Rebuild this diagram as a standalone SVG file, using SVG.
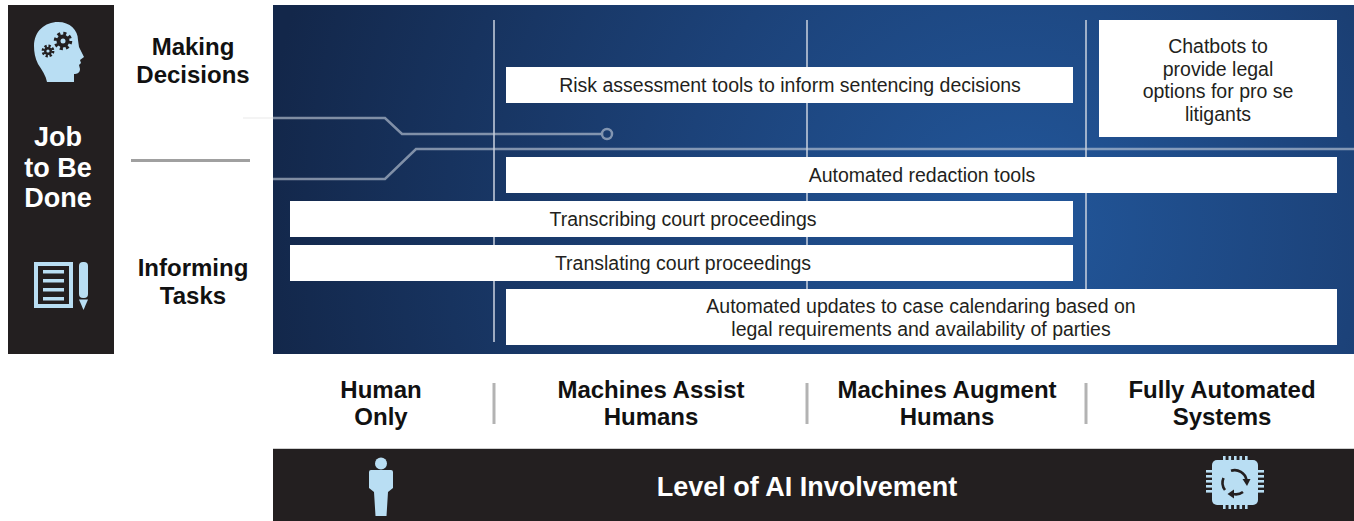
<svg xmlns="http://www.w3.org/2000/svg" width="1354" height="521" viewBox="0 0 1354 521">
  <style>
    .box { fill: #ffffff; }
    .bt { font-family: "Liberation Sans", Arial, sans-serif; font-size: 19.5px; fill: #231f20; text-anchor: middle; }
    .hd { font-family: "Liberation Sans", Arial, sans-serif; font-size: 24px; font-weight: bold; fill: #111111; text-anchor: middle; }
    .wt { font-family: "Liberation Sans", Arial, sans-serif; font-size: 27px; font-weight: bold; fill: #ffffff; text-anchor: middle; }
    .vl { stroke: #c9d2df; stroke-opacity: 0.75; stroke-width: 2; fill: none; }
    .ck { stroke: #c8d0dc; stroke-opacity: 0.6; stroke-width: 2.5; fill: none; }
    .sep { stroke: #b3b3b3; stroke-width: 3; }
    .ico { fill: #b9def3; }
    .dk { fill: #231f20; }
  </style>
  <defs>
    <radialGradient id="bg" gradientUnits="userSpaceOnUse" cx="1020" cy="230" r="760">
      <stop offset="0" stop-color="#22579b"/>
      <stop offset="0.45" stop-color="#1c4279"/>
      <stop offset="1" stop-color="#13274a"/>
    </radialGradient>
  </defs>
  <rect width="1354" height="521" fill="#ffffff"/>

  <!-- left panel -->
  <g id="job-panel">
    <rect x="8" y="5" width="106" height="349" class="dk"/>
    <g id="head-icon">
      <path class="ico" d="M47,82 C46,76 42,70 38,64 C35,58 34,52 34,46 C34,31 45,22 58,22 C70,22 78,30 78,40 L79,47 L84,57 L80,60 L81,63 L79,65 L80,69 C80,73 77,74 74,74 L74,82 Z"/>
      <circle cx="63" cy="41" r="6.5" class="dk"/>
      <circle cx="63" cy="41" r="7.5" fill="none" stroke="#231f20" stroke-width="3.5" stroke-dasharray="3 2.9"/>
      <circle cx="63" cy="41" r="2.5" class="ico"/>
      <circle cx="48" cy="51" r="4" class="dk"/>
      <circle cx="48" cy="51" r="5" fill="none" stroke="#231f20" stroke-width="2.8" stroke-dasharray="2.2 1.7"/>
      <circle cx="48" cy="51" r="1.6" class="ico"/>
    </g>
    <text class="wt" x="58" y="146">Job</text>
    <text class="wt" x="58" y="177">to Be</text>
    <text class="wt" x="58" y="207">Done</text>
    <g id="doc-icon">
      <rect x="34" y="262" width="39" height="46" class="ico"/>
      <rect x="38" y="266" width="31" height="38" class="dk"/>
      <rect x="43" y="270" width="21" height="3.5" class="ico"/>
      <rect x="43" y="279" width="21" height="3.5" class="ico"/>
      <rect x="43" y="288" width="21" height="3.5" class="ico"/>
      <rect x="43" y="297" width="21" height="3.5" class="ico"/>
      <rect x="79" y="262" width="9" height="36" rx="4" class="ico"/>
      <polygon points="79,299.5 88,299.5 83.5,310" class="ico"/>
    </g>
  </g>

  <!-- row labels -->
  <g id="row-making">
    <text class="hd" x="193" y="55">Making</text>
    <text class="hd" x="193" y="83">Decisions</text>
  </g>
  <g id="row-informing">
    <text class="hd" x="193" y="276">Informing</text>
    <text class="hd" x="193" y="304">Tasks</text>
  </g>
  <line x1="131" y1="160.5" x2="250" y2="160.5" stroke="#a0a0a0" stroke-width="3"/>

  <!-- main panel -->
  <rect x="273" y="5" width="1081" height="349" fill="url(#bg)"/>

  <g id="connectors">
    <line class="vl" x1="494" y1="20" x2="494" y2="342"/>
    <line class="vl" x1="807" y1="20" x2="807" y2="342"/>
    <line class="vl" x1="1086" y1="20" x2="1086" y2="342"/>
    <line x1="243" y1="118" x2="273" y2="118" stroke="#ececec" stroke-width="1.2"/>
    <polyline class="ck" points="273,118 385,118 402,134 601,134"/>
    <circle class="ck" cx="607" cy="134" r="5"/>
    <polyline class="ck" points="273,179 385,179 416,149 1354,149"/>
  </g>

  <g id="risk">
    <rect class="box" x="506" y="67" width="567" height="36"/>
    <text class="bt" x="790" y="92">Risk assessment tools to inform sentencing decisions</text>
  </g>
  <g id="chatbots">
    <rect class="box" x="1099" y="20" width="238" height="117"/>
    <text class="bt" x="1218" y="53">Chatbots to</text>
    <text class="bt" x="1218" y="75.5">provide legal</text>
    <text class="bt" x="1218" y="98">options for pro se</text>
    <text class="bt" x="1218" y="120.5">litigants</text>
  </g>
  <g id="redaction">
    <rect class="box" x="506" y="157" width="831" height="36"/>
    <text class="bt" x="922" y="182">Automated redaction tools</text>
  </g>
  <g id="transcribing">
    <rect class="box" x="290" y="201" width="783" height="36"/>
    <text class="bt" x="683" y="226">Transcribing court proceedings</text>
  </g>
  <g id="translating">
    <rect class="box" x="290" y="245" width="783" height="36"/>
    <text class="bt" x="683" y="270">Translating court proceedings</text>
  </g>
  <g id="calendaring">
    <rect class="box" x="506" y="289" width="831" height="56"/>
    <text class="bt" x="921" y="313">Automated updates to case calendaring based on</text>
    <text class="bt" x="921" y="336">legal requirements and availability of parties</text>
  </g>

  <!-- column labels -->
  <g id="col-human">
    <text class="hd" x="381" y="398">Human</text>
    <text class="hd" x="381" y="425">Only</text>
  </g>
  <g id="col-assist">
    <text class="hd" x="651" y="398">Machines Assist</text>
    <text class="hd" x="651" y="425">Humans</text>
  </g>
  <g id="col-augment">
    <text class="hd" x="947" y="398">Machines Augment</text>
    <text class="hd" x="947" y="425">Humans</text>
  </g>
  <g id="col-full">
    <text class="hd" x="1222" y="398">Fully Automated</text>
    <text class="hd" x="1222" y="425">Systems</text>
  </g>
  <line class="sep" x1="494" y1="383" x2="494" y2="424"/>
  <line class="sep" x1="807" y1="383" x2="807" y2="424"/>
  <line class="sep" x1="1086" y1="383" x2="1086" y2="424"/>

  <!-- bottom bar -->
  <g id="level-bar">
    <rect x="273" y="448" width="1081" height="73" class="dk"/>
    <line x1="273" y1="448.5" x2="1354" y2="448.5" stroke="#cfcfcf" stroke-width="1"/>
    <text class="wt" x="807" y="496">Level of AI Involvement</text>
    <g id="person-icon">
      <circle cx="381" cy="463.5" r="6" class="ico"/>
      <path class="ico" d="M371,470 L391,470 Q393,470 393,472 L393,488 L388,492 L386.5,516 L375.5,516 L374,492 L369,488 L369,472 Q369,470 371,470 Z"/>
    </g>
    <g id="chip-icon">
      <rect x="1212" y="460" width="46" height="45" rx="5" class="ico"/>
      <g class="ico">
        <rect x="1223" y="456" width="2.6" height="5"/>
        <rect x="1228.5" y="456" width="2.6" height="5"/>
        <rect x="1234" y="456" width="2.6" height="5"/>
        <rect x="1239.5" y="456" width="2.6" height="5"/>
        <rect x="1245" y="456" width="2.6" height="5"/>
        <rect x="1223" y="504" width="2.6" height="5"/>
        <rect x="1228.5" y="504" width="2.6" height="5"/>
        <rect x="1234" y="504" width="2.6" height="5"/>
        <rect x="1239.5" y="504" width="2.6" height="5"/>
        <rect x="1245" y="504" width="2.6" height="5"/>
        <rect x="1206" y="470" width="7" height="2.6"/>
        <rect x="1206" y="475" width="7" height="2.6"/>
        <rect x="1206" y="480" width="7" height="2.6"/>
        <rect x="1206" y="485" width="7" height="2.6"/>
        <rect x="1206" y="490" width="7" height="2.6"/>
        <rect x="1257" y="470" width="7" height="2.6"/>
        <rect x="1257" y="475" width="7" height="2.6"/>
        <rect x="1257" y="480" width="7" height="2.6"/>
        <rect x="1257" y="485" width="7" height="2.6"/>
        <rect x="1257" y="490" width="7" height="2.6"/>
      </g>
      <g fill="none" stroke="#231f20" stroke-width="2.6">
        <path d="M1231,470.8 A12,12 0 0 1 1246.5,480"/>
        <path d="M1243,492 A12,12 0 0 1 1233,494"/>
        <path d="M1223.5,478 A12,12 0 0 0 1225,490"/>
      </g>
      <polygon class="dk" points="1242.5,479 1250.5,479 1247,486"/>
      <polygon class="dk" points="1234,489.5 1234,498.5 1227.5,494"/>
    </g>
  </g>
</svg>
